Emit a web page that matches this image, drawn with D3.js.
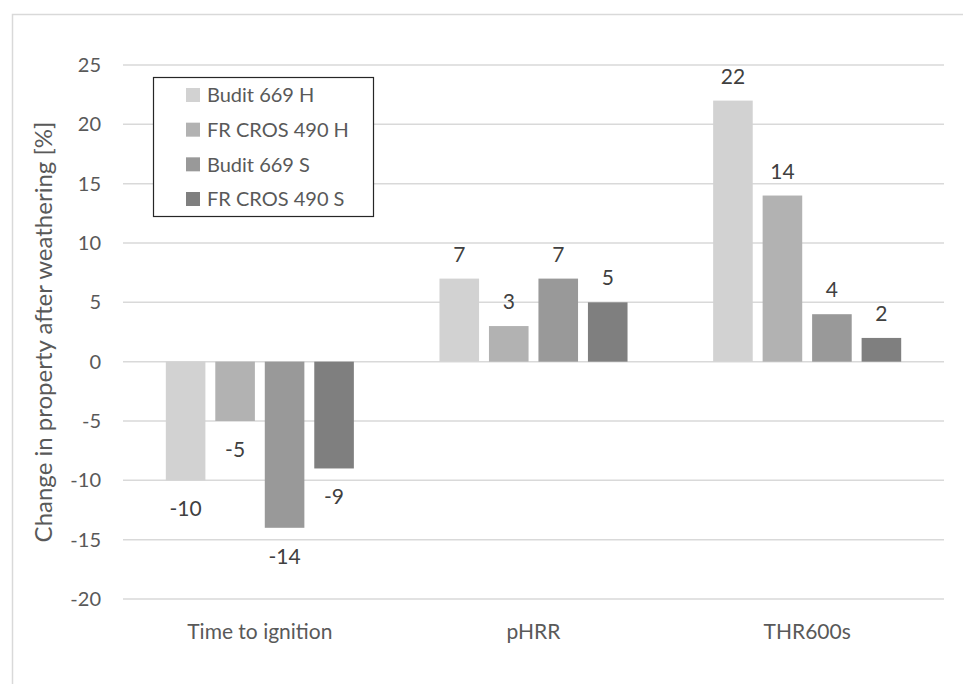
<!DOCTYPE html>
<html>
<head>
<meta charset="utf-8">
<script src="https://cdn.jsdelivr.net/npm/d3@7/dist/d3.min.js"></script>
<style>
  html, body { margin: 0; padding: 0; background: #fff; }
  svg { display: block; }
</style>
</head>
<body>
<svg id="chart" width="963" height="684"></svg>
<script>
// Chart data
const categories = ["Time to ignition", "pHRR", "THR600s"];
const seriesNames = ["Budit 669 H", "FR CROS 490 H", "Budit 669 S", "FR CROS 490 S"];
const budit669H = [-10, 7, 22];
const frCros490H = [-5, 3, 14];
const budit669S = [-14, 7, 4];
const frCros490S = [-9, 5, 2];
const yTicks = [-20, -15, -10, -5, 0, 5, 10, 15, 20, 25];
const seriesColors = ["#d2d2d2", "#b2b2b2", "#999999", "#7f7f7f"];

const seriesValues = [budit669H, frCros490H, budit669S, frCros490S];
const rows = categories.map((c, i) => ({
  category: c,
  values: seriesNames.map((s, j) => ({ series: s, value: seriesValues[j][i], idx: j }))
}));

const FONT = "Lato, 'Liberation Sans', sans-serif";
const svg = d3.select("#chart");
const W = 963, H = 684;
const plot = { left: 123, right: 944, top: 65, bottom: 599 };

// Outer chart frame (extends past the right and bottom edges)
svg.append("rect")
  .attr("x", 12.5).attr("y", 14.5)
  .attr("width", W + 20).attr("height", H + 20)
  .attr("fill", "#fff").attr("stroke", "#d9d9d9").attr("stroke-width", 1.5);

const y = d3.scaleLinear().domain([-20, 25]).range([plot.bottom, plot.top]);
const x0 = d3.scaleBand().domain(categories).range([plot.left, plot.right]).paddingInner(0).paddingOuter(0);
const x1 = d3.scaleBand().domain(seriesNames).range([0, x0.bandwidth()])
  .paddingInner(0.2).paddingOuter(0.865);

// Gridlines
svg.append("g").selectAll("line").data(yTicks).join("line")
  .attr("x1", plot.left).attr("x2", plot.right)
  .attr("y1", d => y(d)).attr("y2", d => y(d))
  .attr("stroke", "#d9d9d9").attr("stroke-width", 1.5);

// Y axis tick labels (plain hyphen for negatives)
const yAxis = d3.axisLeft(y).tickValues(yTicks).tickFormat(d => String(d)).tickSize(0).tickPadding(0);
const yg = svg.append("g").attr("transform", `translate(101,0)`).call(yAxis);
yg.select(".domain").remove();
yg.selectAll("text")
  .attr("font-family", FONT).attr("font-size", 20).attr("fill", "#595959");

// X axis category labels
const xAxis = d3.axisBottom(x0).tickSize(0).tickPadding(0);
const xg = svg.append("g").attr("transform", `translate(0,639)`).call(xAxis);
xg.select(".domain").remove();
xg.selectAll("text")
  .attr("font-family", FONT).attr("font-size", 21).attr("fill", "#595959")
  .attr("dy", "0");

// Y axis title
svg.append("text")
  .attr("transform", `translate(52,${(plot.top + plot.bottom) / 2}) rotate(-90)`)
  .attr("text-anchor", "middle")
  .attr("font-family", FONT).attr("font-size", 24).attr("fill", "#595959")
  .text("Change in property after weathering [%]");

// Bars
const groups = svg.append("g").selectAll("g").data(rows).join("g")
  .attr("transform", d => `translate(${x0(d.category)},0)`);

groups.selectAll("rect").data(d => d.values).join("rect")
  .attr("x", d => x1(d.series))
  .attr("width", x1.bandwidth())
  .attr("y", d => y(Math.max(0, d.value)))
  .attr("height", d => Math.abs(y(d.value) - y(0)))
  .attr("fill", d => seriesColors[d.idx]);

// Value labels
groups.selectAll("text").data(d => d.values).join("text")
  .attr("x", d => x1(d.series) + x1.bandwidth() / 2)
  .attr("y", d => d.value >= 0 ? y(d.value) - 17 : y(d.value) + 36)
  .attr("text-anchor", "middle")
  .attr("font-family", FONT).attr("font-size", 21).attr("fill", "#404040")
  .text(d => d.value);

// Legend
const legend = svg.append("g");
legend.append("rect")
  .attr("x", 153.5).attr("y", 77.5).attr("width", 220).attr("height", 139)
  .attr("fill", "#fff").attr("stroke", "#262626").attr("stroke-width", 1.2);
const ly = d3.scalePoint().domain(seriesNames).range([95, 199]);
const items = legend.selectAll("g.item").data(seriesNames).join("g").attr("class", "item");
items.append("rect")
  .attr("x", 186).attr("y", d => ly(d) - 7).attr("width", 14).attr("height", 14)
  .attr("fill", (d, i) => seriesColors[i]);
items.append("text")
  .attr("x", 207).attr("y", d => ly(d)).attr("dy", "0.36em")
  .attr("font-family", FONT).attr("font-size", 20).attr("fill", "#595959")
  .text(d => d);
</script>
</body>
</html>
